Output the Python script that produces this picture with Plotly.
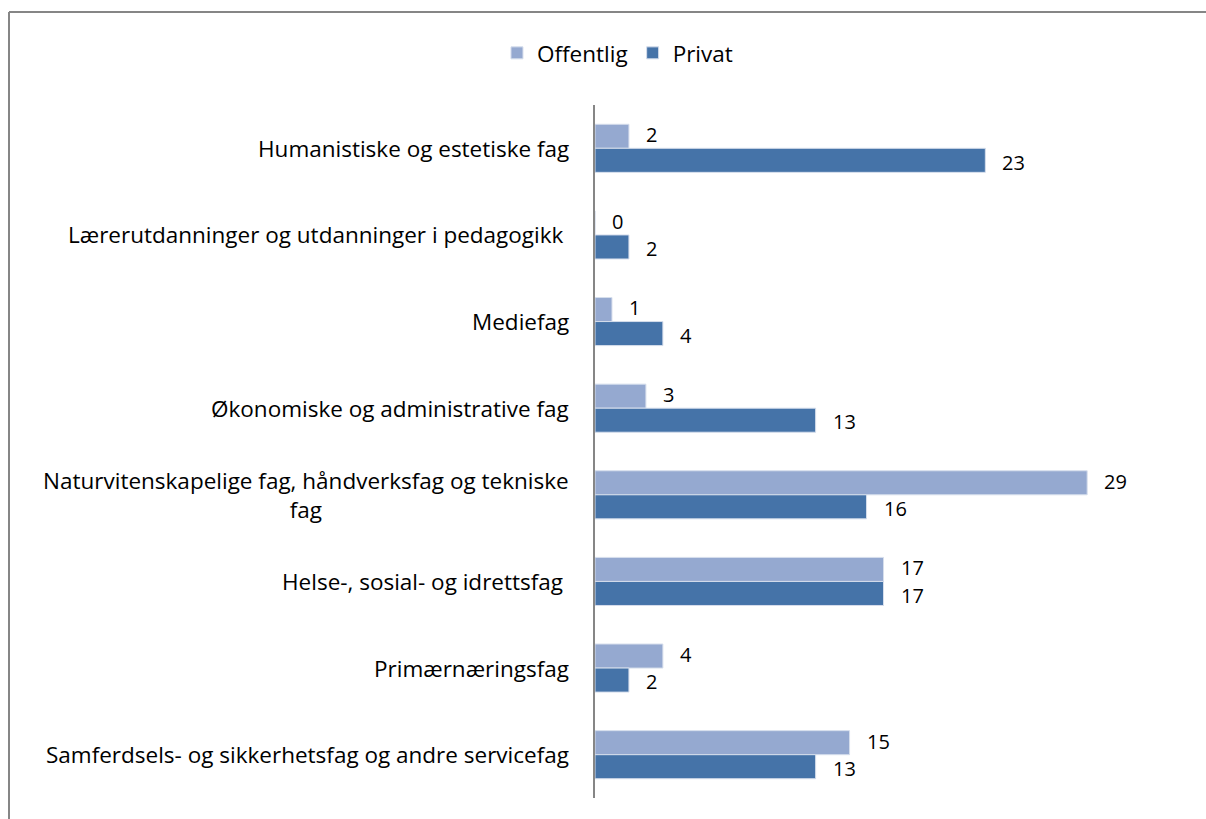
import plotly.graph_objects as go

categories = [
    "Humanistiske og estetiske fag",
    "Lærerutdanninger og utdanninger i pedagogikk ",
    "Mediefag",
    "Økonomiske og administrative fag",
    "Naturvitenskapelige fag, håndverksfag og tekniske<br>fag",
    "Helse-, sosial- og idrettsfag ",
    "Primærnæringsfag",
    "Samferdsels- og sikkerhetsfag og andre servicefag",
]
offentlig = [2, 0, 1, 3, 29, 17, 4, 15]
privat = [23, 2, 4, 13, 16, 17, 2, 13]

W, H = 1206, 819
ML, MR, MT, MB = 595, 17, 105, 21
XMAX = 35
FONT = "Open Sans"
FS = 22.5
FS_VAL = 20
C_OFF = "#95A9D0"
C_PRI = "#4573A8"
GRAY = "#868686"

fig = go.Figure()
fig.add_trace(go.Bar(name="Offentlig", y=categories, x=offentlig, orientation="h",
                     marker=dict(color=C_OFF, line=dict(color="#D6DEEC", width=1))))
fig.add_trace(go.Bar(name="Privat", y=categories, x=privat, orientation="h",
                     marker=dict(color=C_PRI, line=dict(color="#D6DEEC", width=1))))

annotations = []
# category labels
for c in categories:
    annotations.append(dict(x=0, xref="paper", y=c, yref="y", text=c, showarrow=False,
                            xanchor="right", yanchor="middle", xshift=-24, align="center",
                            font=dict(family=FONT, size=FS, color="#000000")))
# value labels
for i, c in enumerate(categories):
    for vals, off in ((offentlig, -0.158), (privat, 0.158)):
        annotations.append(dict(x=vals[i], xref="x", y=i + off, yref="y",
                                text=str(vals[i]), showarrow=False, xanchor="left",
                                yanchor="middle", xshift=15,
                                font=dict(family=FONT, size=FS_VAL, color="#000000")))

pw = W - ML - MR
ph = H - MT - MB
x0 = (9 - ML) / pw
x1 = (W + 10 - ML) / pw
y_top = 1 + (MT - 12) / ph
y_bot = -(MB + 10) / ph

fig.update_layout(
    width=W, height=H,
    margin=dict(l=ML, r=MR, t=MT, b=MB),
    paper_bgcolor="white", plot_bgcolor="white",
    barmode="group", bargap=0.445, bargroupgap=0,
    font=dict(family=FONT, size=FS, color="#000000"),
    showlegend=True,
    legend=dict(orientation="h", xref="container", yref="container", x=0.512, y=0.935,
                xanchor="center", yanchor="middle", font=dict(family=FONT, size=FS),
                itemwidth=30, traceorder="normal"),
    xaxis=dict(range=[0, XMAX], showgrid=False, zeroline=False, showline=False,
               showticklabels=False, ticks=""),
    yaxis=dict(autorange="reversed", showgrid=False, zeroline=False, showline=True,
               linecolor=GRAY, linewidth=2, showticklabels=False, ticks=""),
    annotations=annotations,
    shapes=[
        dict(type="line", xref="paper", yref="paper", x0=x0, x1=x1, y0=y_top, y1=y_top,
             line=dict(color=GRAY, width=2)),
        dict(type="line", xref="paper", yref="paper", x0=x0, x1=x0, y0=y_top, y1=y_bot,
             line=dict(color=GRAY, width=2)),
    ],
)

fig.write_html("out.html", config={"displayModeBar": False},
               post_script="document.body.style.margin='0';document.body.style.overflow='hidden';")
